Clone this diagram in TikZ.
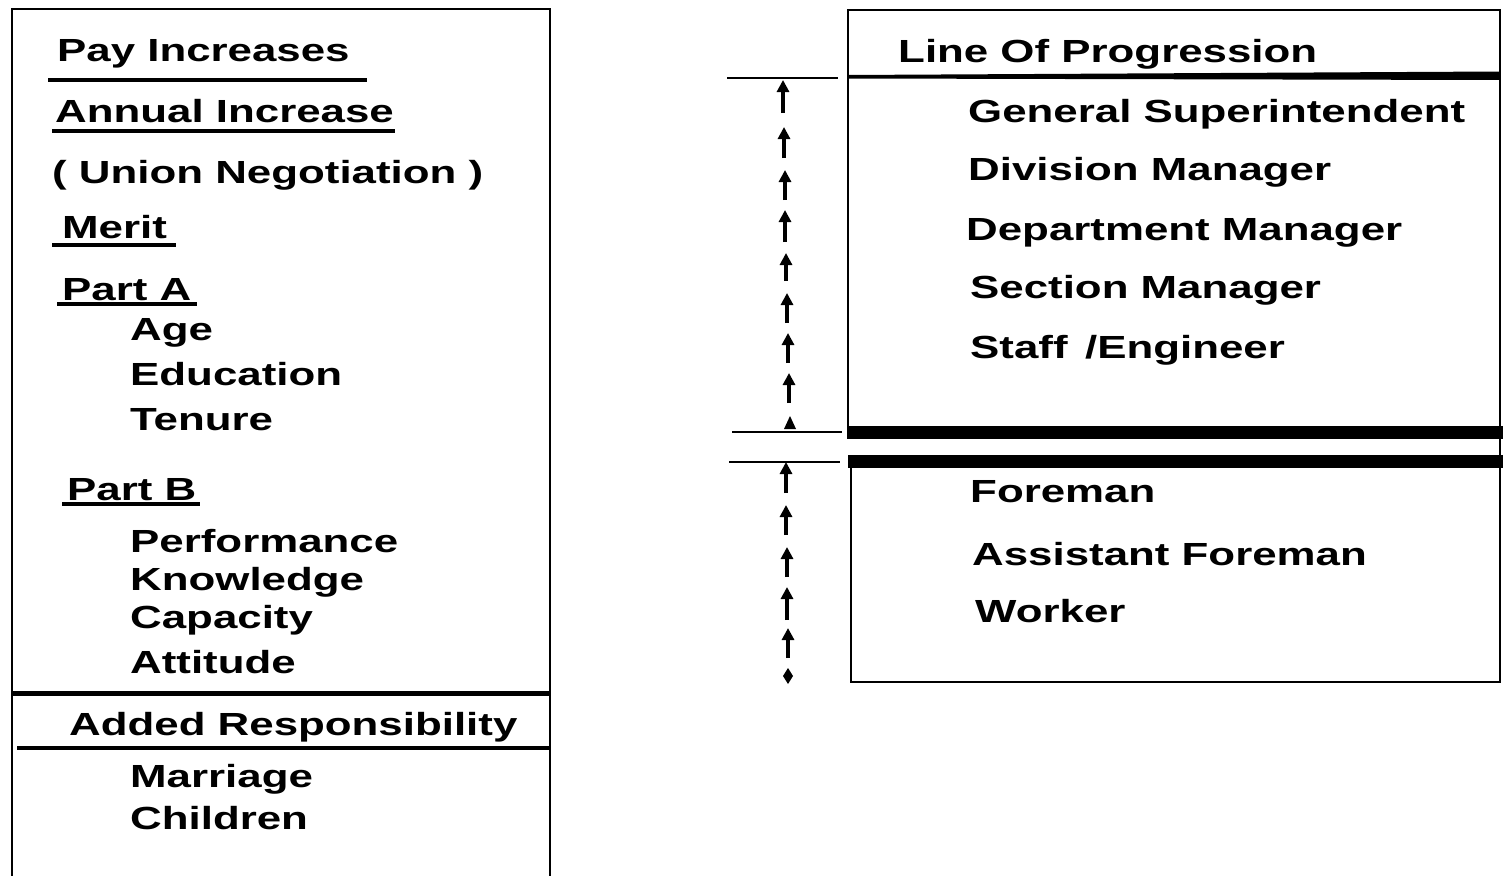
\documentclass[tikz,border=0pt]{standalone}
\usepackage{fontspec}
\setmainfont{Liberation Sans}[FakeStretch=1.37]
\usetikzlibrary{arrows.meta}
\begin{document}
\begin{tikzpicture}[x=1pt,y=-1pt,
  txt/.style={anchor=base west, inner sep=0pt, font=\fontsize{32}{32}\selectfont\bfseries},
  frame/.style={line width=2.5pt, line cap=rect},
  uline/.style={line width=3.5pt},
  bar/.style={line width=13pt},
  up/.style={line width=4.5pt, -{Triangle[length=12pt,width=12pt]}},
  tick/.style={line width=2.8pt}]
\useasboundingbox (0,0) rectangle (1503,875);

% ---------- left box ----------
\draw[frame] (12,875) -- (12,9) -- (550,9) -- (550,875);
\draw[line width=5pt] (12,693) -- (550,693);
\draw[line width=3.5pt] (17,748) -- (550,748);

\node[txt] (pay) at (57,62) {Pay Increases};
\draw[uline] (48,80) -- (367,80);
\node[txt] (annual) at (55,122) {Annual Increase};
\draw[uline] (52,131) -- (395,131);
\node[txt] (union) at (52,183) {( Union Negotiation )};
\node[txt] (merit) at (62,238) {Merit};
\draw[uline] (52,245) -- (176,245);
\node[txt] (parta) at (62,300) {Part A};
\draw[uline] (57,304) -- (197,304);
\node[txt] (age) at (130,340) {Age};
\node[txt] (edu) at (130,385) {Education};
\node[txt] (ten) at (130,430) {Tenure};
\node[txt] (partb) at (67,500) {Part B};
\draw[uline] (62,504) -- (200,504);
\node[txt] (perf) at (130,552) {Performance};
\node[txt] (know) at (130,590) {Knowledge};
\node[txt] (cap) at (130,628) {Capacity};
\node[txt] (att) at (130,673) {Attitude};
\node[txt] (added) at (69,735) {Added Responsibility};
\node[txt] (mar) at (130,787) {Marriage};
\node[txt] (chi) at (130,829) {Children};

% ---------- right box ----------
\draw[frame] (848,438) -- (848,10) -- (1500,10) -- (1500,682) -- (851,682) -- (851,462);
\fill (848,75) -- (1500,71.5) -- (1500,80) -- (848,78.5) -- cycle;
\draw[bar] (848,432.5) -- (1503,432.5);
\draw[bar] (848,461.5) -- (1503,461.5);

\node[txt] (lop) at (898,63) {Line Of Progression};
\node[txt] (gs) at (968,122) {General Superintendent};
\node[txt] (dm) at (968,180) {Division Manager};
\node[txt] (dep) at (966,240) {Department Manager};
\node[txt] (sm) at (970,298) {Section Manager};
\node[txt] (se) at (970,358) {Staff \,/Engineer};
\node[txt] (fm) at (970,502) {Foreman};
\node[txt] (af) at (972,565) {Assistant Foreman};
\node[txt] (wk) at (975,622) {Worker};

% ---------- arrow column ----------
\draw[tick] (727,78) -- (838,78);
\draw[tick] (732,432) -- (842,432);
\draw[tick] (729,462) -- (840,462);

\foreach \t/\b/\x in {80/113/783, 127/158/784, 170/200/785, 210/242/785, 253/281/786, 293/323/787, 333/363/788, 373/403/789}
  \draw[up] (\x,\b) -- (\x,\t);
\fill (790,416) -- (796,429) -- (784,429) -- cycle;

\foreach \t/\b/\x in {462/493/786, 505/535/786, 547/577/787, 587/620/787, 628/658/788}
  \draw[up] (\x,\b) -- (\x,\t);
\fill (788,668) -- (793,676) -- (788,684) -- (783,676) -- cycle;
\end{tikzpicture}
\end{document}
